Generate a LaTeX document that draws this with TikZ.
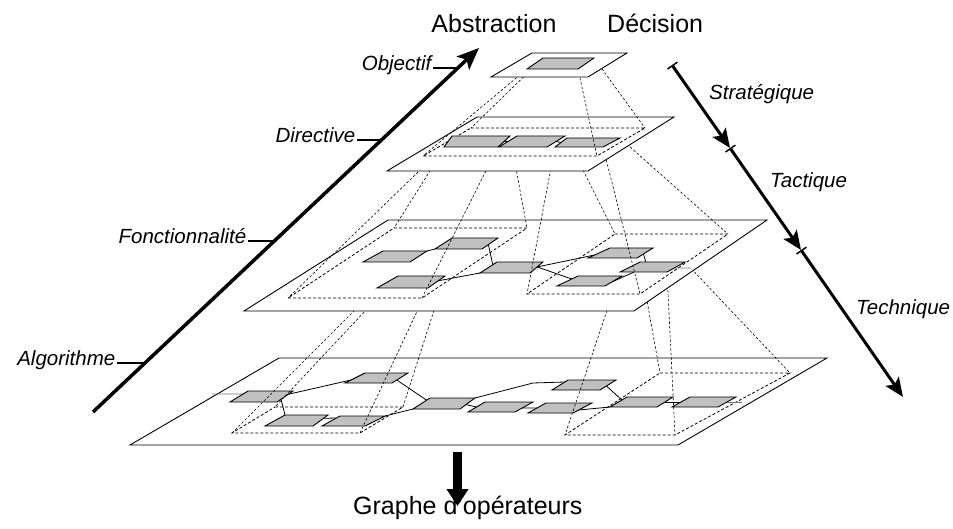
\documentclass[tikz,border=0pt]{standalone}
\usepackage{fontspec}
\setmainfont{Liberation Sans}
\usetikzlibrary{arrows.meta,calc}
\definecolor{cellgray}{RGB}{192,192,192}
\tikzset{
  planestyle/.style={draw=black, fill=white, line width=0.9pt},
  cellstyle/.style={draw=black, fill=cellgray, line width=0.9pt},
  regionstyle/.style={draw=black, line width=0.8pt, dash pattern=on 3pt off 2pt},
  projstyle/.style={draw=black, line width=0.6pt, dash pattern=on 2.5pt off 2pt},
  linkstyle/.style={draw=black, line width=0.8pt},
  stublink/.style={draw=black!55, line width=0.9pt},
  bigtitle/.style={font=\fontsize{25}{30}\selectfont, inner sep=0pt},
  levellabel/.style={font=\fontsize{20.5}{24}\selectfont\itshape, inner xsep=1.5pt, inner ysep=0pt},
  ticklink/.style={line width=1.5pt},
  decaxis/.style={line width=3pt, {Bar[width=12pt,line width=1.5pt]}-{Stealth[length=19pt,width=16pt,inset=4pt]}},
}
% corners of a quadrilateral: name, top-left, top-right, bottom-right, bottom-left
\newcommand{\setquad}[5]{%
  \coordinate (#1-tl) at (#2); \coordinate (#1-tr) at (#3);
  \coordinate (#1-br) at (#4); \coordinate (#1-bl) at (#5);}
\newcommand{\drawquad}[2]{\path[#1] (#2-tl) -- (#2-tr) -- (#2-br) -- (#2-bl) -- cycle;}
% dashed projection of one quadrilateral onto another
\newcommand{\projectquad}[2]{%
  \foreach \corner in {tl,tr,br,bl}{\draw[projstyle] (#1-\corner) -- (#2-\corner);}}

\begin{document}
\begin{tikzpicture}[x=1pt,y=-1pt]
\fill[white] (0,0) rectangle (953,529);
\useasboundingbox (0,0) rectangle (953,529);

% ---------- level 1 ----------
\setquad{lone}{532,53}{627,53}{588,77}{491,77}
\setquad{co}{543,58}{594,58}{578,69}{527,69}
% ---------- level 2 ----------
\setquad{ltwo}{477,117}{674,117}{588,171}{387,171}
\setquad{rtwo}{471,128}{645,128}{597,156}{423,156}
\setquad{ba}{452,136}{510,136}{498,147}{444,147}
\setquad{bb}{517,136}{565,136}{547,147}{499,147}
\setquad{bc}{567,138}{620,138}{603,147}{555,147}
% ---------- level 3 ----------
\setquad{lthree}{388,220}{767,220}{634,311}{244,311}
\setquad{rthreea}{394,228}{527,228}{422,298}{288,298}
\setquad{rthreeb}{615,234}{728,234}{640,294}{527,294}
\setquad{cp}{452,238}{498,238}{482,249}{435,249}
\setquad{cq}{383,251}{427,251}{410,262}{363,262}
\setquad{cr}{398,276}{445,276}{428,288}{377,288}
\setquad{cs}{497,262}{543,262}{530,273}{480,273}
\setquad{ct}{610,248}{653,248}{637,258}{588,258}
\setquad{cu}{640,262}{685,262}{667,272}{620,272}
\setquad{cv}{578,276}{622,276}{605,286}{557,286}
% ---------- level 4 ----------
\setquad{lfour}{279,358}{827,358}{678,445}{130,445}
\setquad{rfoura}{275,407}{403,407}{360,433}{232,433}
\setquad{rfourb}{660,373}{790,373}{675,435}{565,435}
\setquad{da}{248,391}{293,391}{277,402}{230,402}
\setquad{db}{365,373}{408,373}{392,383}{345,383}
\setquad{dc}{285,415}{328,415}{313,426}{265,426}
\setquad{dd}{340,416}{385,416}{365,426}{322,426}
\setquad{de}{430,398}{475,398}{460,409}{413,409}
\setquad{df}{485,402}{533,402}{515,412}{468,412}
\setquad{dg}{546,403}{592,403}{573,413}{528,413}
\setquad{dh}{568,380}{616,380}{600,390}{552,390}
\setquad{di}{627,397}{673,397}{657,407}{610,407}
\setquad{dj}{690,397}{736,397}{718,407}{672,407}

% ===== operator graph (level 4) =====
\drawquad{planestyle}{lfour}
\drawquad{regionstyle}{rfoura}
\drawquad{regionstyle}{rfourb}
\coordinate (stubleft) at (212,394);
\coordinate (stubright) at (742,402);
\coordinate (bendeh) at (533,383);
\draw[stublink] (stubleft) -- ($(da-tl)!0.27!(da-bl)$);
\draw[stublink] ($(dj-tr)!0.5!(dj-br)$) -- (stubright);
\draw[linkstyle] ($(da-tr)!0.3!(da-br)$) -- ($(db-tl)!0.7!(db-bl)$);
\draw[linkstyle] ($(da-tr)!0.75!(da-br)$) -- (dc-tl);
\draw[linkstyle] ($(dc-tr)!0.3!(dc-br)$) -- ($(dd-tl)!0.2!(dd-bl)$);
\draw[linkstyle] (dd-tr) -- (de-bl);
\draw[linkstyle] ($(db-tr)!0.7!(db-br)$) -- ($(de-tl)!0.2!(de-bl)$);
\draw[linkstyle] ($(de-tr)!0.6!(de-br)$) -- ($(df-tl)!0.5!(df-bl)$);
\draw[linkstyle] ($(df-tr)!0.6!(df-br)$) -- ($(dg-tl)!0.5!(dg-bl)$);
\draw[linkstyle] (de-tr) -- (bendeh) -- ($(dh-tl)!0.2!(dh-bl)$);
\draw[linkstyle] ($(dh-tr)!0.6!(dh-br)$) -- ($(di-tl)!0.3!(di-bl)$);
\draw[linkstyle] ($(dg-tr)!0.7!(dg-br)$) -- (di-bl);
\draw[linkstyle] ($(di-tr)!0.5!(di-br)$) -- ($(dj-tl)!0.5!(dj-bl)$);
\foreach \cellname in {da,db,dc,dd,de,df,dg,dh,di,dj}{\drawquad{cellstyle}{\cellname}}
\projectquad{cr}{rfoura}
\projectquad{cu}{rfourb}

% ===== functionalities (level 3) =====
\drawquad{planestyle}{lthree}
\drawquad{regionstyle}{rthreea}
\drawquad{regionstyle}{rthreeb}
\coordinate (stubu) at (691,268);
\draw[stublink] ($(cu-tr)!0.6!(cu-br)$) -- (stubu);
\draw[linkstyle] (cq-tr) -- (cp-bl);
\draw[linkstyle] ($(cp-tr)!0.6!(cp-br)$) -- ($(cs-tl)!0.25!(cs-bl)$);
\draw[linkstyle] ($(cr-tr)!0.4!(cr-br)$) -- (cs-bl);
\draw[linkstyle] ($(cs-tr)!0.45!(cs-br)$) -- ($(ct-tl)!0.7!(ct-bl)$);
\draw[linkstyle] ($(cs-tr)!0.45!(cs-br)$) -- ($(cv-tl)!0.3!(cv-bl)$);
\draw[linkstyle] ($(ct-tr)!0.6!(ct-br)$) -- ($(cu-tl)!0.13!(cu-tr)$);
\draw[linkstyle] ($(cv-tr)!0.6!(cv-br)$) -- ($(cu-bl)!0.3!(cu-br)$);
\foreach \cellname in {cp,cq,cr,cs,ct,cu,cv}{\drawquad{cellstyle}{\cellname}}
\projectquad{ba}{rthreea}
\projectquad{bc}{rthreeb}

% ===== directives (level 2) =====
\drawquad{planestyle}{ltwo}
\drawquad{regionstyle}{rtwo}
\draw[linkstyle] ($(ba-tr)!0.5!(ba-br)$) -- ($(bb-tl)!0.5!(bb-bl)$);
\draw[linkstyle] ($(bb-tr)!0.5!(bb-br)$) -- ($(bc-tl)!0.5!(bc-bl)$);
\foreach \cellname in {ba,bb,bc}{\drawquad{cellstyle}{\cellname}}
\projectquad{co}{rtwo}

% ===== objective (level 1) =====
\drawquad{planestyle}{lone}
\drawquad{cellstyle}{co}

% ===== abstraction axis =====
\coordinate (absfrom) at (93,412);
\coordinate (absto) at (479,48);
\draw[line width=3.5pt, -{Stealth[length=22pt,width=18pt,inset=5pt]}] (absfrom) -- (absto);
\coordinate (tobj) at (457.8,68);
\coordinate (tdir) at (381.4,140);
\coordinate (tfon) at (274.3,241);
\coordinate (talg) at (145,363);
\node[levellabel, anchor=mid east] (lobj) at (433,68) {Objectif};
\node[levellabel, anchor=mid east] (ldir) at (357,140) {Directive};
\node[levellabel, anchor=mid east] (lfon) at (248,241) {Fonctionnalité};
\node[levellabel, anchor=mid east] (lalg) at (117,363) {Algorithme};
\draw[ticklink] (lobj.mid east) -- (tobj);
\draw[ticklink] (ldir.mid east) -- (tdir);
\draw[ticklink] (lfon.mid east) -- (tfon);
\draw[ticklink] (lalg.mid east) -- (talg);

% ===== decision axis =====
\coordinate (deczero) at (672,65);
\coordinate (decone) at (730,148);
\coordinate (dectwo) at (801,250);
\coordinate (decthree) at (903,397);
\draw[decaxis] (deczero) -- (decone);
\draw[decaxis] (decone) -- (dectwo);
\draw[decaxis] (dectwo) -- (decthree);
\node[levellabel, anchor=base west, inner xsep=0pt] (lstr) at (709,100) {Stratégique};
\node[levellabel, anchor=base west, inner xsep=0pt] (ltac) at (770,188) {Tactique};
\node[levellabel, anchor=base west, inner xsep=0pt] (ltec) at (856,315) {Technique};

% ===== titles =====
\node[bigtitle, anchor=base] (tabs) at (494,33) {Abstraction};
\node[bigtitle, anchor=base west] (tdec) at (607,33) {Décision};

% ===== output =====
\coordinate (outfrom) at (457.5,452);
\coordinate (outto) at (457.5,506);
\draw[line width=9pt, -{Triangle[width=21pt,length=17pt]}] (outfrom) -- (outto);
\node[bigtitle, anchor=base west] (tout) at (353,514) {Graphe d'opérateurs};
\end{tikzpicture}
\end{document}
